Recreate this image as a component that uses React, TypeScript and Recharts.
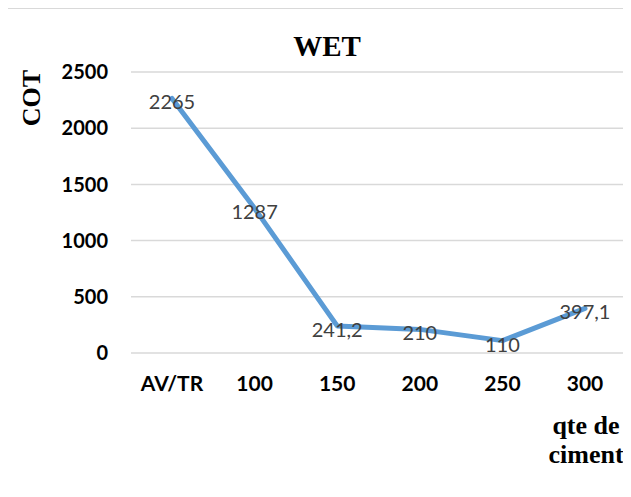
import React from "react";
import {
  ComposedChart,
  Line,
  CartesianGrid,
  XAxis,
  YAxis,
  LabelList,
} from "recharts";

const categories = ["AV/TR", "100", "150", "200", "250", "300"];
const cotValues = [2265, 1287, 241.2, 210, 110, 397.1];
const yTicks = [0, 500, 1000, 1500, 2000, 2500];

const data = categories.map((c, i) => ({ qte: c, cot: cotValues[i] }));

const serif = "'Liberation Serif', 'Times New Roman', serif";
const sans = "Lato, 'Open Sans', sans-serif";

// values printed with a decimal comma
const fmt = (v: number) => String(v).replace(".", ",");

function PointLabel(props: any) {
  const { x, y, value } = props;
  return (
    <text
      x={x}
      y={y + 3}
      textAnchor="middle"
      dominantBaseline="central"
      fill="#404040"
      fontFamily={sans}
      fontSize={20}
    >
      {fmt(value)}
    </text>
  );
}

export default function App() {
  return (
    <div
      style={{
        position: "relative",
        width: 623,
        height: 488,
        marginLeft: -1,
        borderLeft: "1px solid #d9d9d9",
        borderTop: "1px solid #d9d9d9",
      }}
    >
      <div
        style={{
          position: "absolute",
          left: 0,
          width: 638,
          top: 21,
          textAlign: "center",
          fontFamily: serif,
          fontWeight: "bold",
          fontSize: 29,
        }}
      >
        WET
      </div>
      <div
        style={{
          position: "absolute",
          left: 24 - 60,
          top: 89 - 15,
          width: 120,
          transform: "rotate(-90deg)",
          textAlign: "center",
          fontFamily: serif,
          fontWeight: "bold",
          fontSize: 26,
          lineHeight: "30px",
        }}
      >
        COT
      </div>
      <div
        style={{
          position: "absolute",
          left: 528,
          top: 402,
          width: 100,
          textAlign: "center",
          fontFamily: serif,
          fontWeight: "bold",
          fontSize: 26,
          lineHeight: "29px",
        }}
      >
        qte de
        <br />
        ciment
      </div>
      <ComposedChart
        width={623}
        height={487}
        data={data}
        margin={{ top: 63, right: 5, left: 0, bottom: 103 }}
      >
        <CartesianGrid vertical={false} stroke="#d9d9d9" strokeWidth={1.5} />
        <XAxis
          dataKey="qte"
          height={40}
          padding={{ left: 41, right: 41 }}
          axisLine={false}
          tickLine={false}
          tickSize={0}
          tickMargin={23}
          interval={0}
          tick={{ fill: "#000", fontFamily: sans, fontWeight: "bold", fontSize: 21 }}
        />
        <YAxis
          width={123}
          domain={[0, 2500]}
          ticks={yTicks}
          axisLine={false}
          tickLine={false}
          tickSize={0}
          tickMargin={23}
          tick={{ fill: "#000", fontFamily: sans, fontWeight: "bold", fontSize: 20 }}
        />
        <Line
          dataKey="cot"
          stroke="#5b9bd5"
          strokeWidth={5}
          strokeLinejoin="round"
          strokeLinecap="round"
          dot={false}
          isAnimationActive={false}
        >
          <LabelList dataKey="cot" content={<PointLabel />} />
        </Line>
      </ComposedChart>
    </div>
  );
}
